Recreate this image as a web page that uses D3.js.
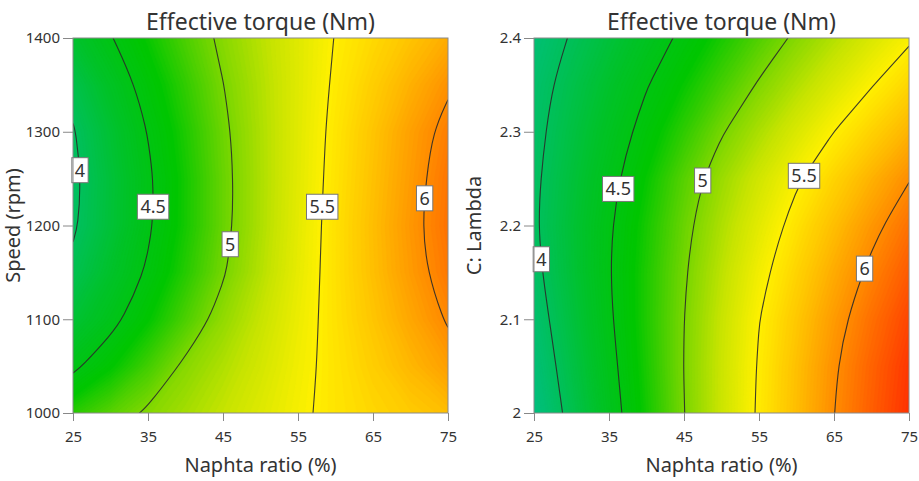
<!DOCTYPE html>
<html><head><meta charset="utf-8">
<script src="https://cdn.jsdelivr.net/npm/d3@7"></script>
<style>
body{margin:0;background:#fff;}
svg{display:block;}
text{font-family:"Noto Sans","Open Sans",sans-serif;}
</style></head><body>
<svg id="chart" width="919" height="481"></svg>
<script>
// ---------- data ----------
const chartTitle = "Effective torque (Nm)";
const xTitle = "Naphta ratio (%)";
const naphtaGrid = [25, 30, 35, 40, 45, 50, 55, 60, 65, 70, 75];
const naphtaTicks = [25, 35, 45, 55, 65, 75];

const speedGrid = [1000, 1050, 1100, 1150, 1200, 1250, 1300, 1350, 1400];
const speedTicks = [1000, 1100, 1200, 1300, 1400];
// effective torque, rows = speed (1000 -> 1400), columns = naphta ratio (25 -> 75)
const torqueBySpeed = [
  [4.76, 4.90, 5.03, 5.135, 5.243, 5.35, 5.46, 5.56, 5.63, 5.695, 5.76],
  [4.455, 4.638, 4.835, 5.04, 5.17, 5.299, 5.438, 5.563, 5.678, 5.793, 5.909],
  [4.23, 4.43, 4.645, 4.864, 5.075, 5.245, 5.413, 5.574, 5.722, 5.87, 6.019],
  [4.066, 4.297, 4.527, 4.755, 4.982, 5.186, 5.389, 5.578, 5.752, 5.926, 6.089],
  [3.965, 4.216, 4.47, 4.708, 4.944, 5.162, 5.375, 5.576, 5.76, 5.945, 6.119],
  [3.945, 4.205, 4.464, 4.705, 4.943, 5.158, 5.365, 5.563, 5.744, 5.924, 6.105],
  [3.98, 4.245, 4.509, 4.734, 4.959, 5.162, 5.359, 5.551, 5.726, 5.902, 6.065],
  [4.093, 4.347, 4.583, 4.789, 4.996, 5.175, 5.354, 5.528, 5.676, 5.823, 5.97],
  [4.27, 4.487, 4.677, 4.865, 5.044, 5.199, 5.355, 5.507, 5.619, 5.731, 5.843]
];

const lambdaGrid = [2.0, 2.05, 2.1, 2.15, 2.2, 2.25, 2.3, 2.35, 2.4];
const lambdaTicks = [2, 2.1, 2.2, 2.3, 2.4];
// effective torque, rows = lambda (2.0 -> 2.4), columns = naphta ratio (25 -> 75)
const torqueByLambda = [
  [3.751, 4.078, 4.396, 4.699, 4.995, 5.264, 5.528, 5.762, 5.996, 6.212, 6.417],
  [3.817, 4.128, 4.433, 4.722, 5.003, 5.263, 5.518, 5.748, 5.977, 6.189, 6.39],
  [3.88, 4.176, 4.47, 4.737, 4.998, 5.248, 5.495, 5.711, 5.927, 6.132, 6.324],
  [3.938, 4.214, 4.489, 4.735, 4.98, 5.211, 5.441, 5.648, 5.848, 6.044, 6.229],
  [3.971, 4.224, 4.477, 4.713, 4.948, 5.163, 5.371, 5.571, 5.757, 5.944, 6.123],
  [3.957, 4.195, 4.433, 4.665, 4.895, 5.101, 5.287, 5.474, 5.647, 5.818, 5.989],
  [3.93, 4.151, 4.369, 4.581, 4.782, 4.984, 5.157, 5.328, 5.5, 5.655, 5.81],
  [3.90, 4.098, 4.293, 4.488, 4.667, 4.844, 5.019, 5.176, 5.333, 5.49, 5.636],
  [3.836, 4.02, 4.199, 4.377, 4.551, 4.715, 4.878, 5.036, 5.181, 5.326, 5.471]
];

const contourLevels = [4, 4.5, 5, 5.5, 6];
const labelSpeedAt = [1259, 1220, 1180, 1220, 1229];     // speed where each level's label sits
const labelLambdaAt = [2.164, 2.239, 2.248, 2.253, 2.154]; // lambda where each level's label sits

// ---------- styles ----------
const colorStops = [3.75, 4.0, 4.3, 4.65, 5.0, 5.25, 5.5, 5.75, 6.0, 6.25, 6.5];
const colorHex = ["#00bf80", "#00c05c", "#00c22a", "#00c600", "#7ad600", "#c8e400", "#fff000", "#ffc000", "#ff8c00", "#ff5600", "#ff2000"];
const color = d3.scaleLinear().domain(colorStops).range(colorHex).interpolate(d3.interpolateRgb).clamp(true);

const svg = d3.select("#chart");
const TOP = 38, SIZE = 375;

const panels = [
  {left: 73, values: torqueBySpeed, yGrid: speedGrid, yTicks: speedTicks, yTitle: "Speed (rpm)", labelAt: labelSpeedAt, id: "p1"},
  {left: 534, values: torqueByLambda, yGrid: lambdaGrid, yTicks: lambdaTicks, yTitle: "C: Lambda", labelAt: labelLambdaAt, id: "p2"}
];

function splitRing(ring, n, m) {
  let pts = ring.slice();
  if (pts.length > 1) {
    const a = pts[0], b = pts[pts.length - 1];
    if (a[0] === b[0] && a[1] === b[1]) pts.pop();
  }
  const isB = p => p[0] <= 0 || p[0] >= n || p[1] <= 0 || p[1] >= m;
  const k = pts.length;
  const s = pts.findIndex(isB);
  if (s < 0) return [{closed: true, pts}];
  const runs = [];
  let cur = [];
  for (let t = 1; t <= k; t++) {
    const p = pts[(s + t) % k];
    if (isB(p)) { if (cur.length > 1) runs.push({closed: false, pts: cur}); cur = []; }
    else cur.push(p);
  }
  if (cur.length > 1) runs.push({closed: false, pts: cur});
  return runs;
}

panels.forEach(P => {
  const n = naphtaGrid.length, m = P.yGrid.length;
  const x = d3.scaleLinear().domain([naphtaGrid[0], naphtaGrid[n - 1]]).range([P.left, P.left + SIZE]);
  const y = d3.scaleLinear().domain([P.yGrid[0], P.yGrid[m - 1]]).range([TOP + SIZE, TOP]);
  const gx = d3.scaleLinear().domain([0.5, n - 0.5]).range([x(naphtaGrid[0]), x(naphtaGrid[n - 1])]);
  const gy = d3.scaleLinear().domain([0.5, m - 0.5]).range([y(P.yGrid[0]), y(P.yGrid[m - 1])]);
  const flat = P.values.flat();

  svg.append("clipPath").attr("id", "clip-" + P.id)
    .append("rect").attr("x", P.left).attr("y", TOP).attr("width", SIZE).attr("height", SIZE);

  const g = svg.append("g").attr("clip-path", `url(#clip-${P.id})`);
  const path = d3.geoPath(d3.geoTransform({point(px, py) { this.stream.point(gx(px), gy(py)); }}));

  // filled gradient bands
  const step = 0.02;
  const thr = d3.range(3.6, 6.6, step);
  const bands = d3.contours().size([n, m]).thresholds(thr)(flat);
  g.selectAll("path.band").data(bands).join("path")
    .attr("class", "band")
    .attr("d", path)
    .attr("fill", d => color(d.value + step / 2))
    .attr("stroke", d => color(d.value + step / 2))
    .attr("stroke-width", 0.6);

  // contour lines
  const line = d3.line().x(p => gx(p[0])).y(p => gy(p[1])).curve(d3.curveBasis);
  const lineClosed = d3.line().x(p => gx(p[0])).y(p => gy(p[1])).curve(d3.curveBasisClosed);
  const lines = d3.contours().size([n, m]).thresholds(contourLevels)(flat);
  lines.forEach(c => {
    c.coordinates.forEach(poly => poly.forEach(ring => {
      splitRing(ring, n, m).forEach(r => {
        g.append("path").attr("d", (r.closed ? lineClosed : line)(r.pts))
          .attr("fill", "none").attr("stroke", "#2a2a2a").attr("stroke-width", 1.1).attr("stroke-opacity", 0.9);
      });
    }));
  });

  // contour labels
  contourLevels.forEach((lv, i) => {
    const yv = P.labelAt[i];
    let j = d3.bisectRight(P.yGrid, yv) - 1;
    j = Math.max(0, Math.min(m - 2, j));
    const ty = (yv - P.yGrid[j]) / (P.yGrid[j + 1] - P.yGrid[j]);
    const row = naphtaGrid.map((_, c) => P.values[j][c] * (1 - ty) + P.values[j + 1][c] * ty);
    let xv = null;
    for (let c = 0; c < n - 1; c++) {
      const a = row[c], b = row[c + 1];
      if ((a - lv) * (b - lv) <= 0 && a !== b) { xv = naphtaGrid[c] + (lv - a) / (b - a) * (naphtaGrid[c + 1] - naphtaGrid[c]); break; }
    }
    if (xv === null) return;
    const lg = svg.append("g").attr("transform", `translate(${x(xv)},${y(yv)})`);
    const t = lg.append("text").text(String(lv)).attr("text-anchor", "middle").attr("dy", "0.36em")
      .attr("font-size", 18).attr("fill", "#333");
    const w = t.node().getComputedTextLength();
    lg.insert("rect", "text").attr("x", -w / 2 - 3).attr("y", -12.5).attr("width", w + 6).attr("height", 25)
      .attr("fill", "#fff").attr("stroke", "#777").attr("stroke-width", 1);
  });

  // frame
  svg.append("rect").attr("x", P.left).attr("y", TOP).attr("width", SIZE).attr("height", SIZE)
    .attr("fill", "none").attr("stroke", "#8a8a8a").attr("stroke-width", 1);

  // axes
  const ax = svg.append("g").attr("transform", `translate(0,${TOP + SIZE})`)
    .call(d3.axisBottom(x).tickValues(naphtaTicks).tickSize(8).tickPadding(10).tickFormat(d => String(d)));
  const ay = svg.append("g").attr("transform", `translate(${P.left},0)`)
    .call(d3.axisLeft(y).tickValues(P.yTicks).tickSize(10).tickPadding(3).tickFormat(d => String(d)));
  [ax, ay].forEach(a => {
    a.select(".domain").remove();
    a.selectAll(".tick line").attr("stroke", "#888");
    a.selectAll(".tick text").attr("fill", "#333").attr("font-size", 15)
      .attr("font-family", '"Noto Sans","Open Sans",sans-serif');
  });

  // titles
  const cx = P.left + SIZE / 2;
  svg.append("text").attr("x", cx).attr("y", 30).attr("text-anchor", "middle")
    .attr("font-size", 23).attr("fill", "#333").text(chartTitle);
  svg.append("text").attr("x", cx).attr("y", 472).attr("text-anchor", "middle")
    .attr("font-size", 20).attr("fill", "#333").text(xTitle);
  svg.append("text").attr("transform", `translate(${P.left - 53},${TOP + SIZE / 2}) rotate(-90)`)
    .attr("text-anchor", "middle").attr("font-size", 20).attr("fill", "#333").text(P.yTitle);
});
</script>
</body></html>
